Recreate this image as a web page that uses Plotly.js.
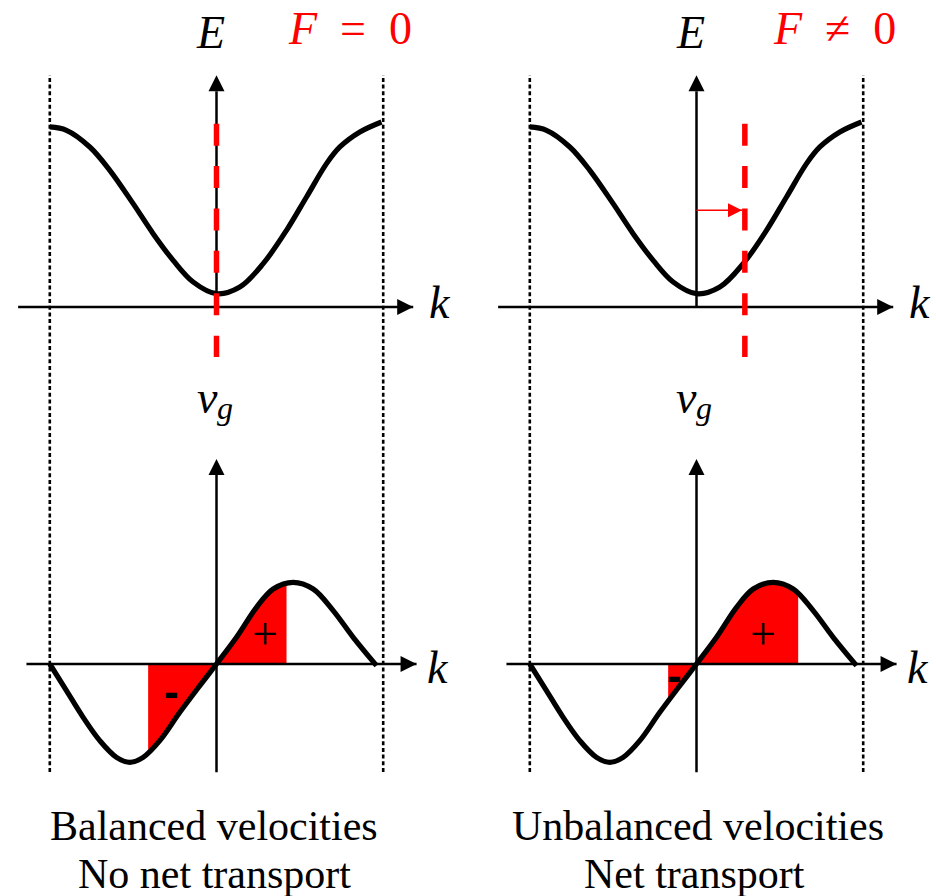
<!DOCTYPE html>
<html>
<head>
<meta charset="utf-8">
<script src="https://cdn.plot.ly/plotly-3.0.1.min.js"></script>
<style>
  html, body { margin: 0; padding: 0; background: #ffffff; }
  #chart { width: 936px; height: 896px; }
</style>
</head>
<body>
<div id="chart"></div>
<script>
// Band energy E(k) across the first Brillouin zone (k in units of pi/a)
const kBand = [-1.0, -0.9, -0.76, -0.64, -0.5, -0.38, -0.26, -0.14, 0, 0.14, 0.28, 0.42, 0.54, 0.66, 0.74, 0.86, 0.99];
const eBand = [1.08, 1.06, 0.96, 0.82, 0.62, 0.44, 0.28, 0.15, 0.08, 0.12, 0.26, 0.46, 0.66, 0.86, 0.96, 1.05, 1.11];

// Group velocity v_g(k)
const kVel = [-1.0, -0.9, -0.8, -0.7, -0.6, -0.52, -0.44, -0.34, -0.22, -0.1, 0, 0.12, 0.24, 0.34, 0.46, 0.58, 0.7, 0.82, 0.96];
const vVel = [0, -0.16, -0.32, -0.46, -0.56, -0.59, -0.56, -0.46, -0.29, -0.13, 0, 0.16, 0.34, 0.45, 0.49, 0.45, 0.32, 0.16, -0.01];

// Brillouin zone edges
const zoneEdges = [-1, 1];

// The two cases: no force / constant force
const forceLabels = ['<i>F</i>\u2002=\u20020', '<i>F</i>\u2002\u2260\u20020'];
const kCentre = [0, 0.29];        // centre of the occupied states
const occLow = [-0.41, -0.17];    // occupied window, lower k edge
const occHigh = [0.42, 0.61];     // occupied window, upper k edge
const vAtLow = [-0.52, -0.21];    // v_g at the lower edge
const vAtHigh = [0.48, 0.40];     // v_g at the upper edge
const forceLevel = 0.58;          // energy at which the shift arrow is drawn

const captionTop = ['Balanced velocities', 'Unbalanced velocities'];
const captionBottom = ['No net transport', 'Net transport'];

// axis extents (in plot units)
const kAxisTop = [-1.19, 1.18];
const eAxisTop = [0, 1.39];
const kAxisBottom = [-1.14, 1.20];
const vAxisBottom = [-0.65, 1.23];
const centreLine = [1.10, -0.30];

const serif = 'Liberation Serif, Times New Roman, serif';
const RED = '#ff0000';
const cols = ['x', 'x2'];

const traces = [];
const annotations = [];
const shapes = [];

function line(xa, ya, xs, ys, color, width, extra) {
  return {
    type: 'scatter', mode: 'lines', x: xs, y: ys, xaxis: xa, yaxis: ya,
    line: Object.assign({ color: color, width: width }, extra || {}),
    hoverinfo: 'skip', showlegend: false
  };
}

// line ending in an arrowhead whose tip sits on the last point
function arrow(xa, ya, xs, ys, sym, width, size, color) {
  return {
    type: 'scatter', mode: 'lines+markers', x: xs, y: ys, xaxis: xa, yaxis: ya,
    line: { color: color, width: width },
    marker: { symbol: sym, size: [0, size], color: color, opacity: 1, line: { width: 0 } },
    hoverinfo: 'skip', showlegend: false
  };
}

[0, 1].forEach(i => {
  const xa = cols[i];

  // ---- bottom row: occupied region under v_g ----
  const inK = [], inV = [];
  kVel.forEach((k, j) => { if (k > occLow[i] && k < occHigh[i]) { inK.push(k); inV.push(vVel[j]); } });
  traces.push({
    type: 'scatter', mode: 'lines', xaxis: xa, yaxis: 'y2',
    x: [occLow[i]].concat(inK, [occHigh[i]]),
    y: [vAtLow[i]].concat(inV, [vAtHigh[i]]),
    fill: 'tozeroy', fillcolor: RED,
    line: { width: 0, shape: 'spline' }, hoverinfo: 'skip', showlegend: false
  });

  // axes
  traces.push(arrow(xa, 'y', kAxisTop, [0, 0], 'arrow-right', 2.5, 16, '#000'));
  traces.push(arrow(xa, 'y', [0, 0], eAxisTop, 'arrow-up', 2.5, 16, '#000'));
  traces.push(arrow(xa, 'y2', kAxisBottom, [0, 0], 'arrow-right', 2.5, 16, '#000'));
  traces.push(arrow(xa, 'y2', [0, 0], vAxisBottom, 'arrow-up', 2.5, 16, '#000'));

  // dispersion and group velocity
  traces.push(line(xa, 'y', kBand, eBand, '#000', 5.2, { shape: 'spline' }));
  traces.push(line(xa, 'y2', kVel, vVel, '#000', 5.2, { shape: 'spline' }));

  // centre of the distribution
  traces.push(line(xa, 'y', [kCentre[i], kCentre[i]], centreLine, RED, 5.5, { dash: '22px,20.4px' }));
  if (kCentre[i] !== 0) {
    traces.push(arrow(xa, 'y', [0, kCentre[i] - 0.017], [forceLevel, forceLevel], 'arrow-right', 1.5, 14, RED));
  }

  // zone edges
  zoneEdges.forEach(k => {
    shapes.push({
      type: 'line', xref: xa, yref: 'paper', x0: k, x1: k, y0: 1 - 772 / 896, y1: 1 - 75 / 896,
      line: { color: '#000', width: 2.6, dash: '4px,2.7px' }, layer: 'below'
    });
  });

  // labels
  const lab = (x, y, ya, text, size, color, family) => ({
    xref: xa, yref: ya, x: x, y: y, text: text, showarrow: false,
    xanchor: 'center', yanchor: 'middle',
    font: { family: family || serif, size: size, color: color || '#000' }
  });

  annotations.push(lab(-0.036, 1.647, 'y', '<i>E</i>', 46));
  annotations.push(lab(0.80 + 0.03 * i, 1.671, 'y', forceLabels[i], 46, RED));
  annotations.push(lab(1.338, 0.03, 'y', '<i>k</i>', 46));
  annotations.push(lab(1.326, -0.02, 'y2', '<i>k</i>', 46));

  // v_g: letter and subscript
  const vgX = [-0.006, -0.015][i];
  annotations.push(lab(vgX - 0.045, -0.543, 'y', '<i>v</i>', 46));
  annotations.push(lab(vgX + 0.057, -0.606, 'y', '<i>g</i>', 32));

  // sign of the velocity contributions
  annotations.push(lab([0.291, 0.40][i], 0.18, 'y2', '+', 46));
  const minus = lab([-0.269, -0.129][i], [-0.166, -0.07][i], 'y2', '-', 44, '#000',
    'Liberation Sans, Arial, sans-serif');
  minus.font.weight = 'bold';
  annotations.push(minus);

  // captions
  annotations.push(lab([-0.018, 0.009][i], -0.97, 'y2', captionTop[i], 42));
  annotations.push(lab(-0.012, -1.262, 'y2', captionBottom[i], 42));
});

const layout = {
  width: 936, height: 896,
  margin: { l: 0, r: 0, t: 0, b: 0, pad: 0 },
  paper_bgcolor: '#ffffff', plot_bgcolor: 'rgba(0,0,0,0)',
  showlegend: false,
  xaxis:  { domain: [0, 0.5], range: [-1.2987, 1.5087], visible: false, fixedrange: true, anchor: 'y' },
  xaxis2: { domain: [0.5, 1], range: [-1.3707, 1.4367], visible: false, fixedrange: true, anchor: 'y' },
  yaxis:  { domain: [0.5, 1], range: [-0.8458, 1.8416], visible: false, fixedrange: true, anchor: 'x' },
  yaxis2: { domain: [0, 0.5], range: [-1.3917, 1.2957], visible: false, fixedrange: true, anchor: 'x' },
  shapes: shapes,
  annotations: annotations
};

Plotly.newPlot('chart', traces, layout, { displayModeBar: false, staticPlot: true });
</script>
</body>
</html>
